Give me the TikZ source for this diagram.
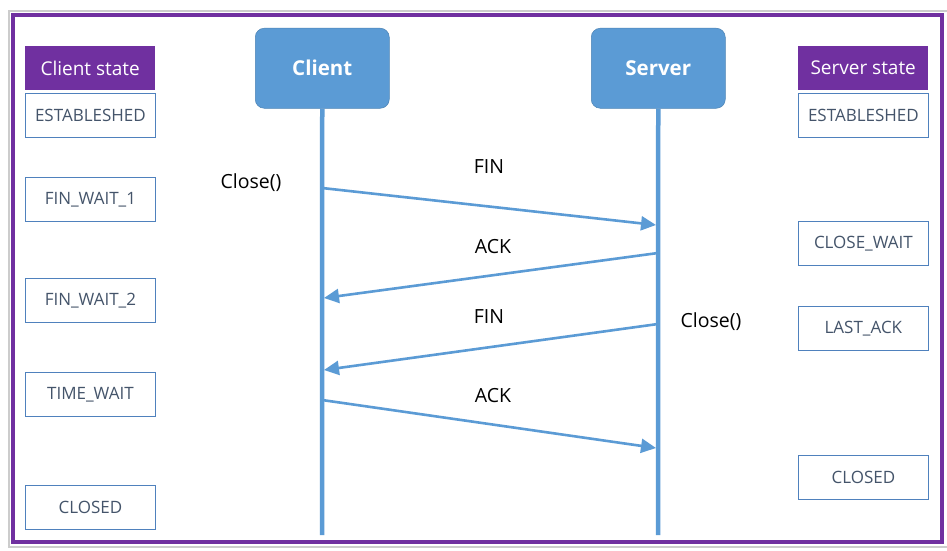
\documentclass[tikz,border=0pt]{standalone}
\usepackage{fontspec}
\setmainfont{Open Sans}
\usetikzlibrary{arrows.meta}
\definecolor{lblue}{HTML}{5B9BD5}
\definecolor{purp}{HTML}{7030A0}
\definecolor{boxline}{HTML}{4F81BD}
\definecolor{slate}{HTML}{44546A}
\tikzset{
  statebox/.style={draw=boxline, line width=0.8pt, fill=white, minimum width=130pt, minimum height=44pt, inner sep=0pt, text=slate, font=\fontsize{17}{20}\selectfont, anchor=north west},
  headbox/.style={fill=purp, minimum width=130pt, minimum height=44pt, inner sep=0pt, text=white, font=\fontsize{19}{22}\selectfont, anchor=north west},
  actor/.style={fill=lblue, draw=lblue!85!black, line width=0.5pt, rounded corners=9pt, minimum width=134pt, minimum height=80pt, inner sep=0pt, text=white, font=\bfseries\fontsize{20.5}{24}\selectfont, anchor=north west},
  life/.style={lblue, line width=4.5pt},
  msg/.style={lblue, line width=2.6pt, -{Triangle[length=15pt,width=14pt]}},
  lbl/.style={font=\fontsize{19.5}{23}\selectfont, text=black}
}
\begin{document}
\begin{tikzpicture}[x=1pt,y=-1pt]
\useasboundingbox (0,0) rectangle (947,551);
\fill[white] (0,0) rectangle (947,551);
\draw[gray!40, line width=1.2pt] (9,11) rectangle (948,547);
\draw[purp, line width=3.6pt] (13,15) rectangle (942,542);
% actors
\node[actor] (client) at (255,28) {Client};
\node[actor] (server) at (591,28) {Server};
\coordinate (cb) at (322,535);
\coordinate (sb) at (658,535);
\draw[life] (client.south) -- (cb);
\draw[life] (server.south) -- (sb);
% states
\node[headbox] (ch) at (25,46) {Client state};
\node[statebox] (c1) at (25,93) {ESTABLESHED};
\node[statebox] (c2) at (25,177) {FIN\_WAIT\_1};
\node[statebox] (c3) at (25,278) {FIN\_WAIT\_2};
\node[statebox] (c4) at (25,372) {TIME\_WAIT};
\node[statebox] (c5) at (25,485) {CLOSED};
\node[headbox] (sh) at (798,46) {Server state};
\node[statebox] (s1) at (798,93) {ESTABLESHED};
\node[statebox] (s2) at (798,221) {CLOSE\_WAIT};
\node[statebox] (s3) at (798,306) {LAST\_ACK};
\node[statebox] (s4) at (798,455) {CLOSED};
% message endpoints
\coordinate (a1) at (322,188); \coordinate (b1) at (656,225);
\coordinate (a2) at (658,253); \coordinate (b2) at (324,298);
\coordinate (a3) at (658,324); \coordinate (b3) at (324,370);
\coordinate (a4) at (322,400); \coordinate (b4) at (656,448);
\draw[msg] (a1) -- (b1);
\draw[msg] (a2) -- (b2);
\draw[msg] (a3) -- (b3);
\draw[msg] (a4) -- (b4);
\node[lbl] (l1) at (489,167) {FIN};
\node[lbl] (l2) at (493,247) {ACK};
\node[lbl] (l3) at (489,317) {FIN};
\node[lbl] (l4) at (493,396) {ACK};
\node[lbl] (cc) at (251,183) {Close()};
\node[lbl] (sc) at (711,322) {Close()};
\end{tikzpicture}
\end{document}
